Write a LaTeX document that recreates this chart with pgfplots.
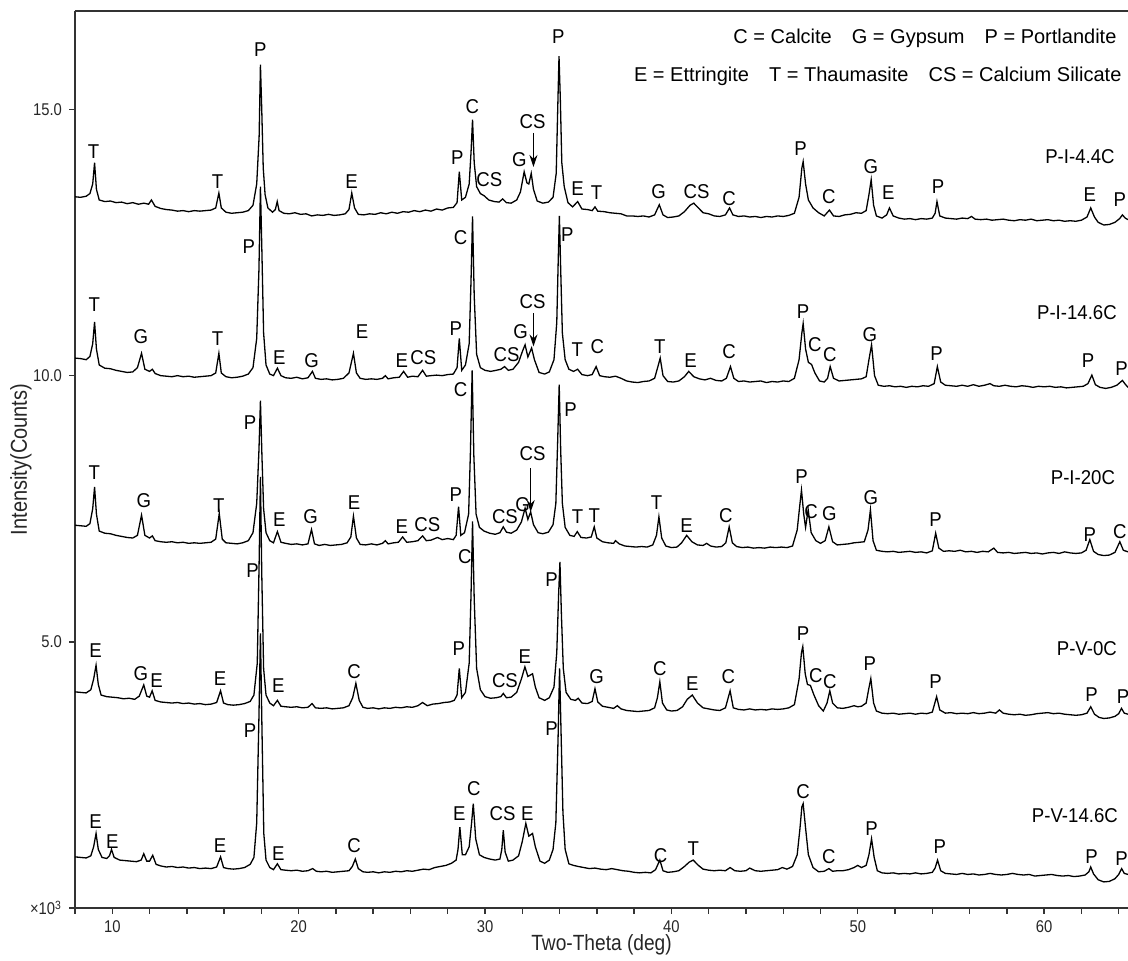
\documentclass[border=0pt]{standalone}
\usepackage{fontspec}
\setmainfont{Liberation Sans}[FakeStretch=0.93]
\newfontfamily\narrowfont{Liberation Sans}[FakeStretch=0.87]
\newfontfamily\widefont{Liberation Sans}
\usepackage{pgfplots}
\pgfplotsset{compat=1.18}
\usetikzlibrary{arrows.meta}
\tikzset{pk/.style={font=\fontsize{10}{12}\selectfont, inner sep=0pt, text=black},
  lg/.style={font=\widefont\fontsize{10}{12}\selectfont, inner sep=0pt, text=black}}
\begin{document}
\begin{tikzpicture}
\begin{axis}[name=ax, scale only axis, width=526.5pt, height=448.5pt,
  xmin=8, xmax=64.5, ymin=0, ymax=16.85,
  axis x line*=bottom, axis y line*=left,
  axis line style={-, line width=0.9pt, draw=black!80},
  tick align=outside, major tick length=3pt, minor tick length=3pt,
  tick style={line width=0.7pt, black!80},
  xtick={10,20,30,40,50,60}, xticklabels={10,20,30,40,50,60},
  minor xtick={8,12,14,16,18,22,24,26,28,32,34,36,38,42,44,46,48,52,54,56,58,62,64},
  ytick={0,5,10,15}, yticklabels={×10\textsuperscript{3},5.0,10.0,15.0},
  ticklabel style={font=\narrowfont\fontsize{8.5}{10}\selectfont, text=black!85},
  xlabel={Two-Theta (deg)}, ylabel={Intensity(Counts)},
  xlabel style={font=\narrowfont\fontsize{11}{13}\selectfont, text=black!85, at={(axis description cs:0.5,-0.0413)}, anchor=center},
  ylabel style={font=\narrowfont\fontsize{11.5}{13}\selectfont, text=black!85, at={(axis description cs:-0.0513,0.5)}, anchor=center},
]
\draw[line width=0.9pt, black!80] (rel axis cs:0,1) -- (rel axis cs:1,1);
% P-I-4.4C
\addplot[black, line width=0.65pt, no marks] coordinates {(8,13.36)(8.3,13.35)(8.6,13.37)(8.8,13.42)(8.95,13.6)(9.05,14)(9.15,13.5)(9.3,13.3)(9.6,13.27)(9.9,13.28)(10.2,13.25)(10.5,13.26)(10.8,13.23)(11.1,13.25)(11.4,13.22)(11.7,13.24)(11.95,13.22)(12.1,13.3)(12.3,13.18)(12.6,13.14)(12.9,13.12)(13.2,13.11)(13.5,13.09)(13.8,13.1)(14.1,13.08)(14.4,13.1)(14.7,13.09)(15,13.1)(15.3,13.11)(15.55,13.15)(15.72,13.43)(15.85,13.15)(16.1,13.07)(16.4,13.05)(16.7,13.06)(17,13.07)(17.3,13.1)(17.55,13.2)(17.75,13.6)(17.88,14.5)(17.95,15.84)(18.02,15)(18.1,13.9)(18.2,13.4)(18.35,13.15)(18.6,13.07)(18.75,13.12)(18.85,13.27)(18.95,13.1)(19.2,13.05)(19.5,13.04)(19.8,13.06)(20.1,13.03)(20.4,13.04)(20.7,13)(21,13.02)(21.3,13.01)(21.6,13.03)(21.9,13.01)(22.2,13.02)(22.5,13.04)(22.7,13.12)(22.85,13.43)(23,13.15)(23.2,13.03)(23.5,13.02)(23.8,13.04)(24.1,13.03)(24.4,13.06)(24.7,13.04)(25,13.07)(25.3,13.05)(25.6,13.08)(25.9,13.07)(26.2,13.1)(26.5,13.08)(26.8,13.11)(27.1,13.09)(27.4,13.13)(27.7,13.11)(28,13.15)(28.3,13.16)(28.5,13.25)(28.62,13.83)(28.75,13.3)(28.95,13.35)(29.15,13.6)(29.25,14.2)(29.33,14.81)(29.42,14)(29.55,13.55)(29.75,13.42)(29.95,13.38)(30.2,13.3)(30.5,13.27)(30.75,13.26)(30.95,13.32)(31.15,13.25)(31.4,13.24)(31.7,13.3)(31.9,13.45)(32.1,13.83)(32.25,13.62)(32.35,13.6)(32.48,13.8)(32.6,13.5)(32.8,13.28)(33.1,13.24)(33.4,13.26)(33.65,13.35)(33.82,13.8)(33.9,15)(33.97,16)(34.04,15.2)(34.12,14)(34.25,13.55)(34.45,13.25)(34.7,13.17)(34.97,13.27)(35.2,13.13)(35.5,13.12)(35.75,13.1)(35.9,13.17)(36.05,13.09)(36.4,13.08)(36.7,13.06)(37,13.05)(37.3,13.04)(37.6,13)(37.9,13)(38.2,12.99)(38.5,13)(38.8,12.98)(39.1,13.02)(39.35,13.21)(39.55,13.02)(39.8,12.97)(40.1,12.98)(40.4,13)(40.7,13.08)(41,13.2)(41.2,13.24)(41.45,13.15)(41.7,13.06)(42,13.04)(42.3,13)(42.6,12.99)(42.9,13.02)(43.12,13.15)(43.3,13.02)(43.6,12.99)(43.9,13)(44.2,12.98)(44.5,12.99)(44.8,12.97)(45.1,12.99)(45.4,12.98)(45.7,13)(46,12.99)(46.3,13.01)(46.6,13.05)(46.85,13.35)(47,13.9)(47.07,14.02)(47.2,13.6)(47.35,13.3)(47.6,13.15)(47.9,13.06)(48.2,13)(48.48,13.11)(48.7,13)(49,12.99)(49.3,13.02)(49.6,13.03)(49.9,13.06)(50.2,13.05)(50.45,13.1)(50.6,13.4)(50.72,13.68)(50.85,13.2)(51,13)(51.3,12.96)(51.55,13.02)(51.7,13.15)(51.9,13)(52.2,12.96)(52.5,12.94)(52.8,12.95)(53.1,12.93)(53.4,12.95)(53.7,12.94)(54,12.96)(54.15,13.05)(54.25,13.27)(54.4,13)(54.7,12.96)(55,12.95)(55.3,12.94)(55.6,12.96)(55.9,12.95)(56.1,12.99)(56.3,12.94)(56.6,12.93)(56.9,12.94)(57.2,12.92)(57.5,12.93)(57.8,12.94)(58.1,12.92)(58.4,12.91)(58.7,12.93)(59,12.92)(59.3,12.94)(59.6,12.91)(59.9,12.92)(60.2,12.93)(60.5,12.91)(60.8,12.92)(61.1,12.9)(61.4,12.91)(61.7,12.9)(62,12.92)(62.3,12.98)(62.5,13.15)(62.7,12.98)(62.9,12.88)(63.2,12.83)(63.5,12.84)(63.8,12.88)(64.05,12.95)(64.2,13.02)(64.35,12.96)(64.5,12.93)};
% P-I-14.6C
\addplot[black, line width=0.65pt, no marks] coordinates {(8,10.33)(8.3,10.32)(8.6,10.3)(8.8,10.36)(8.95,10.6)(9.05,11.01)(9.15,10.5)(9.3,10.2)(9.6,10.14)(9.9,10.13)(10.2,10.1)(10.5,10.08)(10.8,10.06)(11.1,10.07)(11.35,10.15)(11.57,10.42)(11.75,10.12)(12,10.08)(12.15,10.12)(12.3,10.04)(12.6,10)(12.9,9.99)(13.2,9.98)(13.5,10)(13.8,9.98)(14.1,9.99)(14.4,9.97)(14.7,9.98)(15,9.99)(15.3,10)(15.55,10.05)(15.72,10.42)(15.85,10.05)(16.1,9.98)(16.4,9.96)(16.7,9.97)(17,9.99)(17.3,10.03)(17.55,10.15)(17.75,10.7)(17.87,12)(17.95,13.55)(18.03,12.3)(18.12,10.8)(18.25,10.2)(18.45,10.03)(18.65,10)(18.86,10.14)(19.05,10)(19.3,9.96)(19.6,9.95)(19.9,9.97)(20.2,9.94)(20.5,9.96)(20.74,10.08)(20.9,9.95)(21.2,9.93)(21.5,9.94)(21.8,9.92)(22.1,9.93)(22.4,9.95)(22.7,10.05)(22.94,10.42)(23.1,10.05)(23.3,9.95)(23.6,9.93)(23.9,9.94)(24.2,9.93)(24.5,9.95)(24.65,10)(24.8,9.94)(25.1,9.96)(25.4,9.97)(25.63,10.08)(25.85,9.97)(26.1,9.99)(26.4,9.98)(26.65,10.1)(26.85,9.99)(27.1,10)(27.4,10.01)(27.7,10)(28,10.02)(28.3,10.03)(28.5,10.15)(28.62,10.7)(28.75,10.1)(28.95,10.2)(29.15,10.6)(29.25,11.8)(29.33,12.99)(29.42,11.5)(29.55,10.4)(29.75,10.15)(30,10.1)(30.3,10.08)(30.6,10.1)(30.85,10.12)(31.05,10.17)(31.25,10.1)(31.5,10.12)(31.8,10.25)(32,10.45)(32.15,10.58)(32.3,10.35)(32.5,10.52)(32.65,10.3)(32.9,10.06)(33.2,10.03)(33.45,10.07)(33.7,10.3)(33.85,11)(33.93,12.2)(33.99,13)(34.06,12)(34.15,10.8)(34.3,10.3)(34.5,10.12)(34.75,10.08)(34.97,10.12)(35.2,10.02)(35.5,10)(35.75,10.02)(35.96,10.17)(36.15,10)(36.4,9.98)(36.7,9.97)(37,9.99)(37.3,9.95)(37.6,9.9)(37.9,9.88)(38.2,9.87)(38.5,9.89)(38.8,9.9)(39.1,9.95)(39.3,10.2)(39.4,10.33)(39.55,10)(39.8,9.89)(40.1,9.88)(40.4,9.9)(40.7,9.98)(40.93,10.08)(41.2,9.98)(41.5,9.94)(41.8,9.92)(42.1,9.95)(42.4,9.91)(42.7,9.9)(42.95,9.95)(43.17,10.17)(43.35,9.95)(43.6,9.89)(43.9,9.9)(44.2,9.88)(44.5,9.89)(44.8,9.9)(45.1,9.87)(45.4,9.89)(45.7,9.88)(46,9.9)(46.3,9.89)(46.6,9.95)(46.85,10.3)(47,10.8)(47.07,10.98)(47.2,10.5)(47.35,10.25)(47.52,10.21)(47.7,10.05)(47.95,9.9)(48.2,9.88)(48.38,9.95)(48.52,10.17)(48.7,9.95)(49,9.9)(49.3,9.91)(49.6,9.92)(49.9,9.93)(50.2,9.94)(50.45,9.98)(50.6,10.3)(50.74,10.58)(50.9,10)(51.1,9.82)(51.4,9.8)(51.7,9.81)(52,9.79)(52.3,9.8)(52.6,9.78)(52.9,9.8)(53.2,9.79)(53.5,9.81)(53.8,9.8)(54.1,9.85)(54.27,10.17)(54.45,9.88)(54.7,9.82)(55,9.81)(55.3,9.8)(55.6,9.82)(55.9,9.8)(56.2,9.83)(56.5,9.8)(56.8,9.82)(57.1,9.85)(57.3,9.81)(57.6,9.8)(57.9,9.82)(58.2,9.8)(58.5,9.79)(58.8,9.81)(59.1,9.8)(59.4,9.78)(59.7,9.8)(60,9.79)(60.3,9.8)(60.6,9.78)(60.9,9.79)(61.2,9.77)(61.5,9.78)(61.8,9.79)(62.1,9.8)(62.35,9.85)(62.56,10.01)(62.75,9.83)(63,9.78)(63.3,9.76)(63.6,9.78)(63.9,9.82)(64.2,9.91)(64.35,9.84)(64.5,9.78)};
% P-I-20C
\addplot[black, line width=0.65pt, no marks] coordinates {(8,7.19)(8.3,7.18)(8.6,7.17)(8.8,7.22)(8.95,7.5)(9.05,7.91)(9.15,7.4)(9.3,7.08)(9.6,7.04)(9.9,7.03)(10.2,7)(10.5,6.98)(10.8,6.96)(11.1,6.95)(11.35,7)(11.57,7.38)(11.75,7)(12,6.95)(12.15,6.99)(12.3,6.9)(12.6,6.88)(12.9,6.87)(13.2,6.88)(13.5,6.86)(13.8,6.87)(14.1,6.85)(14.4,6.86)(14.7,6.85)(15,6.86)(15.3,6.87)(15.55,6.93)(15.74,7.41)(15.9,6.93)(16.1,6.86)(16.4,6.85)(16.7,6.84)(17,6.86)(17.3,6.9)(17.55,7.05)(17.75,7.6)(17.87,8.6)(17.95,9.53)(18.03,8.5)(18.12,7.5)(18.25,7.05)(18.45,6.9)(18.65,6.86)(18.86,7.07)(19.05,6.87)(19.3,6.85)(19.6,6.83)(19.9,6.84)(20.2,6.82)(20.5,6.84)(20.69,7.11)(20.85,6.84)(21.1,6.81)(21.4,6.83)(21.7,6.81)(22,6.82)(22.3,6.83)(22.6,6.86)(22.8,6.97)(22.94,7.36)(23.1,6.95)(23.3,6.83)(23.6,6.82)(23.9,6.84)(24.2,6.82)(24.5,6.85)(24.65,6.9)(24.8,6.84)(25.1,6.86)(25.35,6.87)(25.58,6.97)(25.8,6.87)(26.1,6.88)(26.4,6.9)(26.65,6.99)(26.85,6.9)(27.1,6.91)(27.45,6.96)(27.7,6.92)(28,6.94)(28.3,6.92)(28.45,7)(28.58,7.54)(28.7,7)(28.9,7.05)(29.12,7.4)(29.22,8.6)(29.31,10.1)(29.4,8.5)(29.52,7.4)(29.7,7.15)(29.95,7.08)(30.25,7.04)(30.55,7.02)(30.8,7.05)(30.98,7.16)(31.15,7.06)(31.4,7.04)(31.7,7.1)(31.95,7.25)(32.15,7.51)(32.3,7.3)(32.45,7.44)(32.6,7.2)(32.85,7.05)(33.1,7.03)(33.4,7.06)(33.65,7.2)(33.8,7.6)(33.9,8.8)(33.98,9.83)(34.06,8.6)(34.15,7.6)(34.3,7.15)(34.55,7)(34.78,6.98)(34.95,7.07)(35.15,6.96)(35.45,6.95)(35.7,6.97)(35.86,7.16)(36,6.95)(36.3,6.88)(36.6,6.86)(36.9,6.85)(37,6.9)(37.2,6.84)(37.5,6.8)(37.8,6.79)(38.1,6.78)(38.4,6.79)(38.7,6.78)(39,6.82)(39.2,7)(39.33,7.35)(39.48,6.95)(39.7,6.8)(40,6.77)(40.3,6.78)(40.55,6.86)(40.82,7)(41.1,6.88)(41.4,6.82)(41.7,6.81)(41.89,6.85)(42.1,6.8)(42.4,6.78)(42.7,6.79)(42.92,6.86)(43.1,7.16)(43.27,6.86)(43.5,6.79)(43.8,6.77)(44.1,6.78)(44.4,6.76)(44.7,6.77)(45,6.76)(45.3,6.78)(45.6,6.77)(45.9,6.78)(46.2,6.77)(46.5,6.8)(46.75,7.1)(46.9,7.6)(46.98,7.85)(47.1,7.4)(47.2,7.15)(47.34,7.48)(47.5,7.05)(47.75,6.9)(48,6.85)(48.25,6.9)(48.45,7.16)(48.65,6.88)(48.9,6.82)(49.2,6.83)(49.5,6.84)(49.8,6.86)(50.1,6.87)(50.35,6.88)(50.55,7.1)(50.68,7.48)(50.82,6.9)(51,6.72)(51.3,6.7)(51.6,6.69)(51.9,6.7)(52.2,6.68)(52.5,6.69)(52.8,6.7)(53.1,6.68)(53.4,6.69)(53.7,6.67)(54,6.71)(54.18,7.04)(54.35,6.76)(54.6,6.7)(54.9,6.71)(55.2,6.7)(55.5,6.72)(55.8,6.69)(56.1,6.7)(56.4,6.68)(56.7,6.7)(57,6.69)(57.3,6.76)(57.5,6.68)(57.8,6.67)(58.1,6.68)(58.4,6.66)(58.7,6.67)(59,6.68)(59.3,6.66)(59.6,6.67)(59.9,6.65)(60.2,6.67)(60.5,6.68)(60.8,6.66)(61.1,6.69)(61.4,6.67)(61.7,6.66)(62,6.67)(62.25,6.72)(62.45,6.92)(62.65,6.7)(62.9,6.64)(63.2,6.62)(63.5,6.63)(63.8,6.68)(64.06,6.88)(64.25,6.72)(64.5,6.69)};
% P-V-0C
\addplot[black, line width=0.65pt, no marks] coordinates {(8,4.06)(8.3,4.05)(8.6,4.04)(8.85,4.1)(9,4.3)(9.13,4.56)(9.25,4.2)(9.4,4)(9.7,3.97)(10,3.96)(10.3,3.95)(10.6,3.93)(10.9,3.94)(11.2,3.92)(11.45,3.98)(11.69,4.19)(11.85,3.98)(12,3.96)(12.14,4.08)(12.3,3.9)(12.6,3.87)(12.9,3.86)(13.2,3.85)(13.5,3.86)(13.8,3.84)(14.1,3.85)(14.4,3.83)(14.7,3.84)(15,3.82)(15.3,3.83)(15.6,3.86)(15.81,4.08)(15.97,3.85)(16.2,3.82)(16.5,3.81)(16.8,3.82)(17.1,3.84)(17.4,3.88)(17.6,4)(17.78,4.6)(17.88,6.5)(17.95,8.1)(18.02,6.3)(18.12,4.5)(18.25,4)(18.45,3.85)(18.65,3.8)(18.86,3.9)(19.05,3.79)(19.3,3.78)(19.6,3.77)(19.9,3.78)(20.2,3.76)(20.5,3.77)(20.72,3.84)(20.9,3.76)(21.2,3.75)(21.5,3.76)(21.8,3.74)(22.1,3.75)(22.4,3.76)(22.7,3.8)(22.9,3.95)(23.07,4.22)(23.25,3.9)(23.45,3.77)(23.7,3.75)(24,3.76)(24.3,3.74)(24.6,3.76)(24.9,3.75)(25.2,3.77)(25.5,3.76)(25.8,3.78)(26.1,3.77)(26.4,3.8)(26.65,3.86)(26.9,3.8)(27.2,3.83)(27.5,3.84)(27.8,3.86)(28.1,3.87)(28.35,3.9)(28.5,4)(28.62,4.5)(28.75,3.95)(28.95,4.05)(29.15,4.6)(29.25,5.9)(29.33,7.26)(29.42,5.8)(29.55,4.5)(29.75,4.1)(30,3.97)(30.3,3.94)(30.6,3.95)(30.85,3.97)(30.98,4.03)(31.15,3.95)(31.4,3.96)(31.7,4.05)(31.95,4.3)(32.14,4.53)(32.3,4.35)(32.55,4.4)(32.7,4.15)(32.9,3.95)(33.2,3.9)(33.45,3.95)(33.7,4.15)(33.85,4.8)(33.95,5.9)(34.02,6.5)(34.1,5.5)(34.2,4.5)(34.35,4.05)(34.6,3.92)(34.85,3.9)(35,3.94)(35.2,3.85)(35.5,3.84)(35.75,3.88)(35.9,4.12)(36.05,3.87)(36.3,3.79)(36.6,3.77)(36.9,3.75)(37.1,3.8)(37.3,3.74)(37.6,3.71)(37.9,3.7)(38.2,3.69)(38.5,3.7)(38.8,3.71)(39.1,3.76)(39.25,3.95)(39.38,4.25)(39.52,3.85)(39.75,3.72)(40,3.7)(40.3,3.71)(40.6,3.78)(40.85,3.92)(41.12,4)(41.4,3.85)(41.7,3.76)(42,3.74)(42.3,3.72)(42.6,3.71)(42.9,3.76)(43.15,4.08)(43.32,3.76)(43.6,3.73)(43.9,3.72)(44.2,3.74)(44.5,3.72)(44.8,3.73)(45.1,3.72)(45.4,3.74)(45.7,3.73)(46,3.74)(46.3,3.76)(46.6,3.82)(46.85,4.3)(46.98,4.8)(47.05,4.91)(47.18,4.4)(47.3,4.2)(47.46,4.18)(47.65,4)(47.9,3.8)(48.15,3.7)(48.35,3.85)(48.5,4.08)(48.65,3.85)(48.9,3.76)(49.2,3.75)(49.5,3.77)(49.8,3.8)(50,3.78)(50.2,3.79)(50.45,3.85)(50.58,4.1)(50.7,4.31)(50.85,3.85)(51,3.7)(51.3,3.66)(51.6,3.65)(51.9,3.66)(52.2,3.64)(52.5,3.65)(52.8,3.66)(53.1,3.64)(53.4,3.66)(53.7,3.65)(54,3.68)(54.23,3.97)(54.4,3.72)(54.7,3.66)(55,3.67)(55.3,3.65)(55.6,3.66)(55.9,3.65)(56.2,3.67)(56.5,3.65)(56.8,3.66)(57.1,3.68)(57.4,3.66)(57.6,3.72)(57.8,3.66)(58.1,3.64)(58.4,3.63)(58.7,3.64)(59,3.62)(59.3,3.63)(59.6,3.65)(59.9,3.66)(60.2,3.67)(60.5,3.65)(60.8,3.66)(61.1,3.64)(61.4,3.63)(61.7,3.62)(62,3.63)(62.3,3.66)(62.5,3.78)(62.7,3.64)(62.95,3.58)(63.2,3.56)(63.5,3.57)(63.8,3.6)(64,3.65)(64.15,3.75)(64.3,3.66)(64.5,3.64)};
% P-V-14.6C
\addplot[black, line width=0.65pt, no marks] coordinates {(8,0.96)(8.3,0.95)(8.6,0.94)(8.85,0.98)(9,1.15)(9.13,1.4)(9.25,1.1)(9.45,0.95)(9.7,0.93)(9.85,0.98)(9.96,1.1)(10.1,0.95)(10.4,0.9)(10.7,0.89)(11,0.88)(11.3,0.87)(11.55,0.9)(11.69,1.02)(11.85,0.88)(12,0.88)(12.17,0.99)(12.35,0.82)(12.6,0.79)(12.9,0.77)(13.2,0.78)(13.5,0.76)(13.8,0.77)(14.1,0.75)(14.4,0.76)(14.7,0.74)(15,0.75)(15.3,0.74)(15.6,0.77)(15.81,0.96)(15.97,0.76)(16.2,0.74)(16.5,0.73)(16.8,0.74)(17.1,0.76)(17.4,0.82)(17.6,0.95)(17.75,1.6)(17.87,3.6)(17.95,5.16)(18.03,3.4)(18.13,1.4)(18.25,0.9)(18.45,0.76)(18.65,0.72)(18.86,0.83)(19.05,0.72)(19.3,0.71)(19.6,0.7)(19.9,0.71)(20.2,0.69)(20.5,0.7)(20.75,0.74)(20.95,0.69)(21.2,0.68)(21.5,0.69)(21.8,0.67)(22.1,0.68)(22.4,0.69)(22.7,0.7)(22.88,0.78)(23.04,0.92)(23.2,0.74)(23.45,0.68)(23.7,0.67)(24,0.68)(24.3,0.66)(24.6,0.68)(24.9,0.67)(25.2,0.69)(25.5,0.68)(25.8,0.7)(26.1,0.69)(26.4,0.71)(26.7,0.73)(27,0.72)(27.3,0.76)(27.6,0.78)(27.9,0.8)(28.2,0.84)(28.45,0.9)(28.55,1.1)(28.65,1.52)(28.78,1)(28.95,1)(29.15,1.15)(29.28,1.6)(29.37,1.96)(29.5,1.3)(29.7,1)(29.95,0.95)(30.25,0.92)(30.55,0.9)(30.8,0.92)(30.9,1.1)(30.98,1.46)(31.08,1.05)(31.25,0.88)(31.5,0.9)(31.8,0.98)(32,1.25)(32.19,1.59)(32.35,1.35)(32.55,1.4)(32.7,1.15)(32.95,0.88)(33.2,0.84)(33.45,0.9)(33.65,1.1)(33.8,1.6)(33.92,3.2)(34,4.5)(34.08,3.3)(34.18,1.8)(34.3,1.1)(34.5,0.83)(34.75,0.8)(35,0.78)(35.3,0.76)(35.6,0.74)(35.9,0.75)(36.2,0.73)(36.5,0.72)(36.8,0.74)(37.1,0.72)(37.4,0.7)(37.7,0.69)(38,0.67)(38.3,0.66)(38.6,0.67)(38.9,0.66)(39.15,0.72)(39.38,0.9)(39.55,0.7)(39.8,0.67)(40.1,0.68)(40.4,0.7)(40.7,0.78)(40.95,0.86)(41.17,0.9)(41.45,0.8)(41.7,0.73)(42,0.71)(42.3,0.7)(42.6,0.71)(42.9,0.7)(43.15,0.76)(43.4,0.7)(43.7,0.69)(44,0.7)(44.2,0.75)(44.5,0.7)(44.8,0.69)(45.1,0.7)(45.4,0.71)(45.7,0.72)(45.95,0.76)(46.2,0.73)(46.5,0.78)(46.75,1)(46.9,1.5)(47,1.9)(47.07,1.96)(47.2,1.5)(47.35,1)(47.6,0.76)(47.9,0.68)(48.2,0.69)(48.45,0.74)(48.65,0.69)(48.9,0.7)(49.2,0.7)(49.5,0.72)(49.8,0.76)(50,0.8)(50.2,0.76)(50.45,0.8)(50.6,1)(50.74,1.3)(50.88,0.95)(51.05,0.7)(51.3,0.66)(51.6,0.65)(51.9,0.66)(52.2,0.64)(52.5,0.65)(52.8,0.64)(53.1,0.66)(53.4,0.64)(53.7,0.65)(54,0.67)(54.15,0.75)(54.28,0.9)(54.45,0.7)(54.7,0.65)(55,0.64)(55.3,0.63)(55.6,0.65)(55.9,0.63)(56.2,0.64)(56.5,0.62)(56.8,0.63)(57.1,0.65)(57.4,0.63)(57.7,0.62)(58,0.63)(58.3,0.65)(58.6,0.63)(58.9,0.62)(59.2,0.63)(59.5,0.6)(59.8,0.61)(60.1,0.62)(60.4,0.63)(60.7,0.61)(61,0.6)(61.3,0.61)(61.6,0.59)(61.9,0.6)(62.2,0.62)(62.4,0.68)(62.5,0.77)(62.65,0.64)(62.9,0.53)(63.2,0.49)(63.5,0.5)(63.8,0.55)(64,0.63)(64.16,0.74)(64.3,0.65)(64.5,0.63)};
% legend text
\node[lg, anchor=east] at (axis cs:63.9,16.33) {C = Calcite\quad G = Gypsum\quad P = Portlandite};
\node[lg, anchor=east] at (axis cs:64.17,15.63) {E = Ettringite\quad T = Thaumasite\quad CS = Calcium Silicate};
% arrows
\draw[-{Stealth[length=6pt,width=4pt]}, line width=0.6pt] (axis cs:32.6,14.56) -- (axis cs:32.6,13.92);
\draw[-{Stealth[length=6pt,width=4pt]}, line width=0.6pt] (axis cs:32.6,11.17) -- (axis cs:32.6,10.55);
\draw[-{Stealth[length=6pt,width=4pt]}, line width=0.6pt] (axis cs:32.45,8.26) -- (axis cs:32.45,7.44);
% labels trace 1
\node[pk] at (axis cs:9.0,14.21) {T};
\node[pk] at (axis cs:15.65,13.65) {T};
\node[pk] at (axis cs:17.95,16.12) {P};
\node[pk] at (axis cs:22.84,13.65) {E};
\node[pk] at (axis cs:28.51,14.09) {P};
\node[pk] at (axis cs:29.32,15.06) {C};
\node[pk] at (axis cs:30.23,13.68) {CS};
\node[pk] at (axis cs:31.84,14.05) {G};
\node[pk] at (axis cs:32.55,14.78) {CS};
\node[pk] at (axis cs:33.93,16.37) {P};
\node[pk] at (axis cs:34.97,13.52) {E};
\node[pk] at (axis cs:35.99,13.44) {T};
\node[pk] at (axis cs:39.31,13.46) {G};
\node[pk] at (axis cs:41.35,13.46) {CS};
\node[pk] at (axis cs:43.1,13.33) {C};
\node[pk] at (axis cs:46.93,14.27) {P};
\node[pk] at (axis cs:48.45,13.37) {C};
\node[pk] at (axis cs:50.7,13.93) {G};
\node[pk] at (axis cs:51.64,13.43) {E};
\node[pk] at (axis cs:54.31,13.55) {P};
\node[pk] at (axis cs:62.45,13.4) {E};
\node[pk] at (axis cs:64.06,13.3) {P};
\node[pk] at (axis cs:61.92,14.11) {P-I-4.4C};
% labels trace 2
\node[pk] at (axis cs:9.03,11.33) {T};
\node[pk] at (axis cs:11.54,10.73) {G};
\node[pk] at (axis cs:15.65,10.7) {T};
\node[pk] at (axis cs:17.33,12.42) {P};
\node[pk] at (axis cs:18.96,10.33) {E};
\node[pk] at (axis cs:20.7,10.29) {G};
\node[pk] at (axis cs:23.41,10.83) {E};
\node[pk] at (axis cs:25.53,10.29) {E};
\node[pk] at (axis cs:26.69,10.33) {CS};
\node[pk] at (axis cs:28.44,10.89) {P};
\node[pk] at (axis cs:28.69,12.59) {C};
\node[pk] at (axis cs:31.16,10.39) {CS};
\node[pk] at (axis cs:31.91,10.83) {G};
\node[pk] at (axis cs:32.55,11.39) {CS};
\node[pk] at (axis cs:34.41,12.64) {P};
\node[pk] at (axis cs:34.95,10.48) {T};
\node[pk] at (axis cs:36.02,10.55) {C};
\node[pk] at (axis cs:39.38,10.55) {T};
\node[pk] at (axis cs:41.03,10.29) {E};
\node[pk] at (axis cs:43.1,10.45) {C};
\node[pk] at (axis cs:47.07,11.2) {P};
\node[pk] at (axis cs:47.7,10.58) {C};
\node[pk] at (axis cs:48.5,10.39) {C};
\node[pk] at (axis cs:50.65,10.77) {G};
\node[pk] at (axis cs:54.23,10.42) {P};
\node[pk] at (axis cs:62.36,10.29) {P};
\node[pk] at (axis cs:64.15,10.14) {P};
\node[pk] at (axis cs:61.76,11.18) {P-I-14.6C};
% labels trace 3
\node[pk] at (axis cs:9.03,8.18) {T};
\node[pk] at (axis cs:11.7,7.65) {G};
\node[pk] at (axis cs:15.72,7.55) {T};
\node[pk] at (axis cs:17.39,9.12) {P};
\node[pk] at (axis cs:18.96,7.3) {E};
\node[pk] at (axis cs:20.64,7.35) {G};
\node[pk] at (axis cs:22.97,7.61) {E};
\node[pk] at (axis cs:25.53,7.17) {E};
\node[pk] at (axis cs:26.9,7.21) {CS};
\node[pk] at (axis cs:28.44,7.76) {P};
\node[pk] at (axis cs:28.69,9.73) {C};
\node[pk] at (axis cs:31.07,7.35) {CS};
\node[pk] at (axis cs:32.02,7.57) {G};
\node[pk] at (axis cs:32.55,8.54) {CS};
\node[pk] at (axis cs:34.59,9.37) {P};
\node[pk] at (axis cs:34.97,7.35) {T};
\node[pk] at (axis cs:35.86,7.38) {T};
\node[pk] at (axis cs:39.21,7.61) {T};
\node[pk] at (axis cs:40.82,7.19) {E};
\node[pk] at (axis cs:42.92,7.38) {C};
\node[pk] at (axis cs:46.98,8.1) {P};
\node[pk] at (axis cs:47.5,7.45) {C};
\node[pk] at (axis cs:48.47,7.41) {G};
\node[pk] at (axis cs:50.7,7.7) {G};
\node[pk] at (axis cs:54.17,7.29) {P};
\node[pk] at (axis cs:62.45,7.02) {P};
\node[pk] at (axis cs:64.06,7.07) {C};
\node[pk] at (axis cs:62.08,8.08) {P-I-20C};
% labels trace 4
\node[pk] at (axis cs:9.11,4.84) {E};
\node[pk] at (axis cs:11.54,4.41) {G};
\node[pk] at (axis cs:12.38,4.28) {E};
\node[pk] at (axis cs:15.78,4.31) {E};
\node[pk] at (axis cs:17.53,6.34) {P};
\node[pk] at (axis cs:18.91,4.17) {E};
\node[pk] at (axis cs:22.98,4.44) {C};
\node[pk] at (axis cs:28.6,4.88) {P};
\node[pk] at (axis cs:28.92,6.6) {C};
\node[pk] at (axis cs:31.07,4.28) {CS};
\node[pk] at (axis cs:32.13,4.72) {E};
\node[pk] at (axis cs:33.57,6.16) {P};
\node[pk] at (axis cs:35.99,4.34) {G};
\node[pk] at (axis cs:39.38,4.5) {C};
\node[pk] at (axis cs:41.12,4.22) {E};
\node[pk] at (axis cs:43.05,4.34) {C};
\node[pk] at (axis cs:47.07,5.16) {P};
\node[pk] at (axis cs:47.75,4.37) {C};
\node[pk] at (axis cs:48.5,4.25) {C};
\node[pk] at (axis cs:50.65,4.59) {P};
\node[pk] at (axis cs:54.17,4.25) {P};
\node[pk] at (axis cs:62.54,4.0) {P};
\node[pk] at (axis cs:64.24,3.97) {P};
\node[pk] at (axis cs:62.29,4.88) {P-V-0C};
% labels trace 5
\node[pk] at (axis cs:9.11,1.62) {E};
\node[pk] at (axis cs:10.0,1.24) {E};
\node[pk] at (axis cs:15.78,1.18) {E};
\node[pk] at (axis cs:17.39,3.34) {P};
\node[pk] at (axis cs:18.91,1.02) {E};
\node[pk] at (axis cs:22.98,1.18) {C};
\node[pk] at (axis cs:28.62,1.77) {E};
\node[pk] at (axis cs:29.4,2.24) {C};
\node[pk] at (axis cs:30.94,1.77) {CS};
\node[pk] at (axis cs:32.27,1.77) {E};
\node[pk] at (axis cs:33.57,3.37) {P};
\node[pk] at (axis cs:39.42,0.99) {C};
\node[pk] at (axis cs:41.17,1.12) {T};
\node[pk] at (axis cs:47.07,2.18) {C};
\node[pk] at (axis cs:48.45,0.96) {C};
\node[pk] at (axis cs:50.74,1.49) {P};
\node[pk] at (axis cs:54.4,1.15) {P};
\node[pk] at (axis cs:62.54,0.96) {P};
\node[pk] at (axis cs:64.16,0.93) {P};
\node[pk] at (axis cs:61.65,1.74) {P-V-14.6C};
\end{axis}
\pgfresetboundingbox
\path[use as bounding box] ([shift={(-37.5pt,-26.5pt)}]ax.south west) rectangle ([shift={(0pt,5.5pt)}]ax.north east);
\end{tikzpicture}
\end{document}
